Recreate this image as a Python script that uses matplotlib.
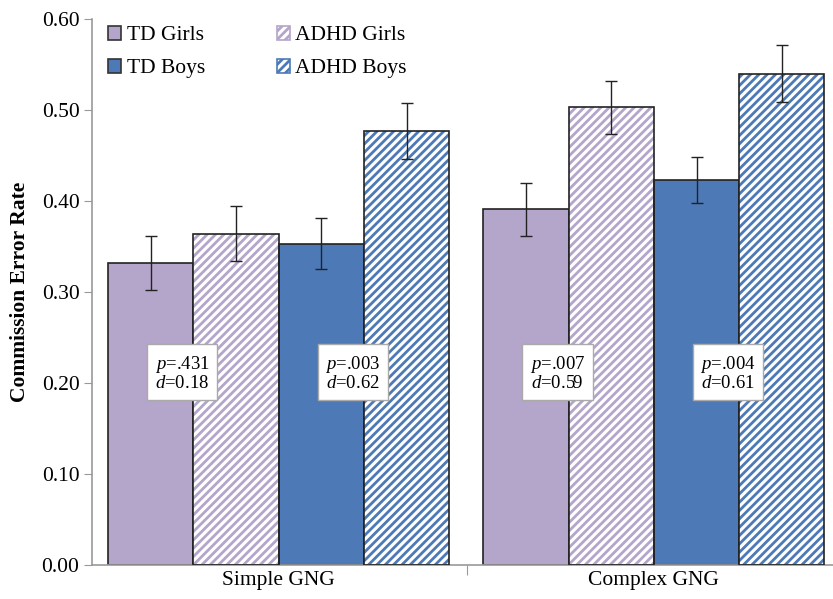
import matplotlib
matplotlib.use("Agg")
import matplotlib.pyplot as plt
from matplotlib.patches import Patch
import numpy as np

plt.rcParams['font.family'] = ['Liberation Serif', 'DejaVu Serif']
plt.rcParams['mathtext.fontset'] = 'custom'
plt.rcParams['mathtext.rm'] = 'Liberation Serif'
plt.rcParams['mathtext.it'] = 'Liberation Serif:italic'
plt.rcParams['hatch.linewidth'] = 2.0

conditions = ["Simple GNG", "Complex GNG"]
groups = ["TD Girls", "ADHD Girls", "TD Boys", "ADHD Boys"]
means = {
    "TD Girls":   [0.332, 0.391],
    "ADHD Girls": [0.364, 0.503],
    "TD Boys":    [0.353, 0.423],
    "ADHD Boys":  [0.477, 0.540],
}
errors = {
    "TD Girls":   [0.030, 0.029],
    "ADHD Girls": [0.030, 0.029],
    "TD Boys":    [0.028, 0.025],
    "ADHD Boys":  [0.031, 0.031],
}
annotations = [
    ("TD Girls", 0, ".431", "0.18"),
    ("TD Boys", 0, ".003", "0.62"),
    ("TD Girls", 1, ".007", "0.59"),
    ("TD Boys", 1, ".004", "0.61"),
]
yticks = [0.0, 0.1, 0.2, 0.3, 0.4, 0.5, 0.6]

purple = "#b4a5ca"
blue = "#4d7ab6"
colors = {"TD Girls": purple, "ADHD Girls": purple, "TD Boys": blue, "ADHD Boys": blue}
hatched = {"TD Girls": False, "ADHD Girls": True, "TD Boys": False, "ADHD Boys": True}

fig = plt.figure(figsize=(8.33, 5.99), dpi=100)
ax = fig.add_axes([0.1104, 0.0568, 0.8896, 0.9114])

width = 1.0
group_offset = 4.4
group_starts = np.array([0.0, group_offset])

handles = {}
for i, g in enumerate(groups):
    x = group_starts + i * width + width / 2
    if hatched[g]:
        ax.bar(x, means[g], width=width, color="white", edgecolor=colors[g],
               hatch="////", linewidth=0, zorder=2)
        ax.bar(x, means[g], width=width, fill=False, edgecolor="#222222",
               linewidth=1.2, zorder=3)
        handles[g] = Patch(facecolor="white", edgecolor=colors[g], hatch="////", label=g)
    else:
        ax.bar(x, means[g], width=width, color=colors[g], edgecolor="#222222",
               linewidth=1.2, zorder=2)
        handles[g] = Patch(facecolor=colors[g], edgecolor="#333333", label=g)
    ax.errorbar(x, means[g], yerr=errors[g], fmt="none", ecolor="#222222",
                elinewidth=1.0, capsize=4, capthick=1.0, zorder=4)

for g, ci, p, d in annotations:
    gi = groups.index(g)
    xc = group_starts[ci] + gi * width + width * 0.87
    ax.text(xc, 0.211, f"$p$={p}\n$d$={d}", ha="center", va="center",
            fontsize=13.5, linespacing=1.05, zorder=5,
            bbox=dict(boxstyle="square,pad=0.4", facecolor="white",
                      edgecolor="#aaaaaa", linewidth=1.0))

legend_order = ["TD Girls", "TD Boys", "ADHD Girls", "ADHD Boys"]
leg = ax.legend(handles=[handles[g] for g in legend_order], ncol=2,
                loc="upper left", frameon=False,
                fontsize=15.5, handlelength=0.6, handleheight=0.6,
                handletextpad=0.25, columnspacing=3.35, labelspacing=0.64,
                bbox_to_anchor=(-0.004, 1.023))
for h in leg.legend_handles:
    h.set_linewidth(1.2)

ax.set_xlim(-0.19, 8.5)
ax.set_ylim(0, 0.6)
ax.set_yticks(yticks)
ax.set_yticklabels([f"{v:.2f}" for v in yticks], fontsize=15.5)
ax.set_ylabel("Commission Error Rate", fontsize=15.5, fontweight="bold", labelpad=8)

ax.set_xticks([4.21])
ax.set_xticklabels([""])
ax.set_xticks([2.0, 6.4], minor=True)
ax.set_xticklabels(conditions, minor=True, fontsize=15.5)
ax.tick_params(axis="x", which="minor", length=0, pad=4)
ax.tick_params(axis="x", which="major", length=7, color="#999999", direction="out")
ax.tick_params(axis="y", length=6, color="#999999", direction="out", pad=3)

for s in ["top", "right"]:
    ax.spines[s].set_visible(False)
for s in ["left", "bottom"]:
    ax.spines[s].set_color("#999999")
    ax.spines[s].set_linewidth(1.2)

fig.savefig("out.png", dpi=100)
